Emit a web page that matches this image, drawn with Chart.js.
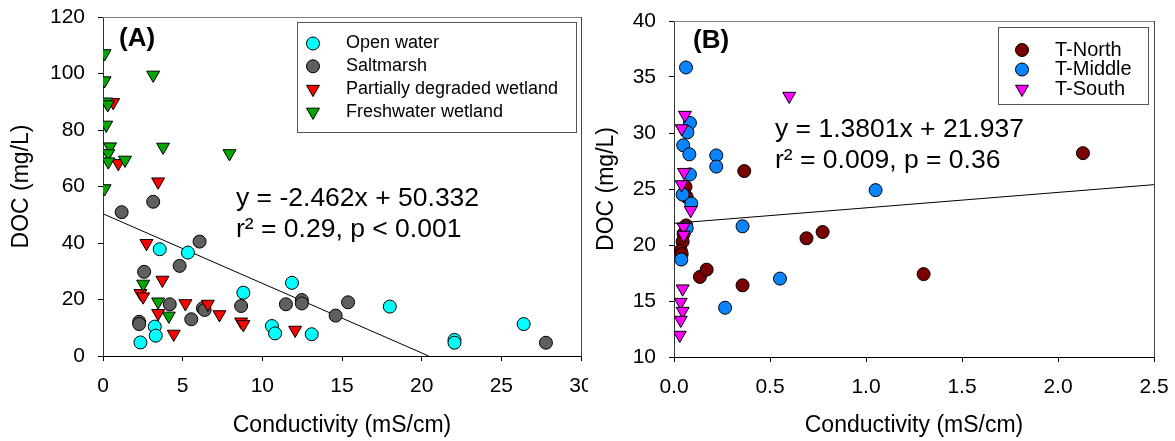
<!DOCTYPE html>
<html>
<head>
<meta charset="utf-8">
<script src="https://cdn.jsdelivr.net/npm/chart.js@4.4.1/dist/chart.umd.min.js"></script>
<style>
  body { margin:0; background:#fff; }
  .wrap { position:absolute; top:0; height:441px; overflow:hidden; }
</style>
</head>
<body>
<div class="wrap" style="left:0;width:588px"><canvas id="chartA" width="600" height="441"></canvas></div>
<div class="wrap" style="left:588px;width:587px"><canvas id="chartB" width="587" height="441"></canvas></div>
<script>
const FONT = "'Liberation Sans', Arial, sans-serif";

// ===== PANEL A data (conductivity mS/cm, DOC mg/L) =====
const openWater = [[5.33,36.6],[3.56,37.8],[8.81,22.4],[11.86,25.9],[3.25,10.4],[3.31,7.2],[2.35,4.8],
  [10.6,10.6],[10.8,8.0],[13.1,7.7],[18.0,17.5],[22.06,5.7],[22.06,4.7],[26.4,11.3]];
const saltmarsh = [[3.15,54.6],[1.17,50.9],[6.06,40.5],[4.81,31.9],[2.58,29.8],[4.19,18.3],[6.27,16.9],
  [6.38,16.3],[8.67,17.7],[11.48,18.3],[5.54,13.0],[2.27,12.1],[2.27,11.3],[12.48,19.8],[12.48,18.6],
  [15.38,19.0],[14.6,14.3],[27.8,4.7]];
const degraded = [[0.64,89.8],[0.96,68.2],[3.46,61.7],[2.73,39.9],[3.73,26.9],[2.35,22.2],[2.52,21.0],
  [5.17,18.6],[6.58,18.4],[3.46,15.1],[7.31,14.7],[8.67,12.1],[8.81,11.2],[4.44,7.8],[12.06,9.2]];
const freshwater = [[0.1,107.1],[3.15,99.5],[0.1,97.5],[0.2,90.0],[0.3,89.0],[0.2,81.8],[0.44,74.1],
  [3.77,74.0],[7.94,71.7],[0.33,71.7],[0.33,68.8],[1.38,69.4],[0.1,59.3],[2.52,25.5],[3.46,19.2],[4.13,14.2]];
const fitA = { slope: -2.462, intercept: 50.332 };
const xTicksA = [0, 5, 10, 15, 20, 25, 30];
const yTicksA = [0, 20, 40, 60, 80, 100, 120];

// ===== PANEL B data =====
const tNorth = [[0.06,25.2],[0.066,24.3],[0.063,21.75],[0.05,21.0],[0.045,20.3],[0.035,19.5],[0.04,19.2],
  [0.135,17.15],[0.17,17.8],[0.357,16.4],[0.366,26.6],[0.69,20.6],[0.774,21.16],[1.30,17.4],[2.13,28.2]];
const tMiddle = [[0.0625,35.85],[0.083,30.9],[0.07,30.06],[0.048,28.9],[0.08,28.1],[0.22,28.0],[0.22,27.0],
  [0.083,26.3],[0.045,24.5],[0.09,23.7],[0.066,21.5],[0.038,18.7],[0.357,21.67],[0.266,14.4],[0.552,17.0],[1.05,24.9]];
const tSouth = [[0.6,33.3],[0.057,31.6],[0.04,30.4],[0.052,26.5],[0.04,25.4],[0.087,23.1],[0.05,21.6],
  [0.05,20.9],[0.045,16.1],[0.035,14.9],[0.045,14.1],[0.035,13.3],[0.03,11.96]];
const fitB = { slope: 1.3801, intercept: 21.937 };
const xTicksB = [0, 0.5, 1, 1.5, 2, 2.5];
const xTickLabelsB = ['0.0', '0.5', '1.0', '1.5', '2.0', '2.5'];
const yTicksB = [10, 15, 20, 25, 30, 35, 40];

const pts = arr => arr.map(([x, y]) => ({ x, y }));

function scatter(label, data, color, shape, order) {
  const tri = shape === 'triangle';
  return {
    type: 'scatter', label, data: pts(data), order,
    backgroundColor: color, borderColor: '#000', borderWidth: 1,
    pointStyle: shape, rotation: tri ? 180 : 0, pointRadius: tri ? 7.5 : 6.5
  };
}

function fitLine(fit, x0, x1) {
  return {
    type: 'line', data: [{ x: x0, y: fit.slope * x0 + fit.intercept }, { x: x1, y: fit.slope * x1 + fit.intercept }],
    borderColor: '#000', borderWidth: 1, pointRadius: 0, order: 10
  };
}

// labels may hang over the plot edges; the layout padding alone places the plot
function noPad(s) { s.paddingLeft = s.paddingRight = s.paddingTop = s.paddingBottom = 0 }

function axes(xTicks, xLabel, yTicks, yAxisW, xAxisH, yTitlePad) {
  return {
    x: {
      type: 'linear', min: xTicks[0], max: xTicks[xTicks.length - 1],
      afterBuildTicks: s => { s.ticks = xTicks.map(v => ({ value: v })) },
      afterFit: s => { s.height = xAxisH; noPad(s) },
      grid: { drawOnChartArea: false, drawTicks: true, tickLength: 5, color: '#000' },
      border: { color: '#000', width: 1 },
      ticks: { color: '#000', font: { size: 21, family: FONT }, padding: 13, maxRotation: 0, autoSkip: false, callback: xLabel },
      title: { display: true, text: 'Conductivity (mS/cm)', color: '#000', font: { size: 23, family: FONT }, padding: { top: 0, bottom: 2 } }
    },
    y: {
      type: 'linear', min: yTicks[0], max: yTicks[yTicks.length - 1],
      afterBuildTicks: s => { s.ticks = yTicks.map(v => ({ value: v })) },
      afterFit: s => { s.width = yAxisW; noPad(s) },
      grid: { drawOnChartArea: false, drawTicks: true, tickLength: 5, color: '#000' },
      border: { color: '#333', width: 1 },
      ticks: { color: '#000', font: { size: 21, family: FONT }, padding: 13, autoSkip: false },
      title: { display: true, text: 'DOC (mg/L)', color: '#000', font: { size: 23, family: FONT }, padding: { top: yTitlePad, bottom: 0 } }
    }
  };
}

// frame, legend, equation and panel letter
const overlay = {
  id: 'overlay',
  afterDraw(chart, args, o) {
    const { ctx, chartArea: a } = chart;
    ctx.save();
    ctx.lineWidth = 1;
    ctx.strokeStyle = '#808080';
    ctx.beginPath(); ctx.moveTo(a.left, a.top + 0.5); ctx.lineTo(a.right, a.top + 0.5); ctx.stroke();
    ctx.strokeStyle = '#444';
    ctx.beginPath(); ctx.moveTo(a.right + 0.5, a.top); ctx.lineTo(a.right + 0.5, a.bottom); ctx.stroke();

    // legend
    const L = o.legend;
    ctx.strokeStyle = '#555';
    ctx.strokeRect(L.x + 0.5, L.y + 0.5, L.w, L.h);
    ctx.font = `${L.size}px ${FONT}`;
    ctx.textBaseline = 'middle';
    ctx.textAlign = 'left';
    chart.data.datasets.filter(d => d.label).sort((p, q) => p.legendIdx - q.legendIdx).forEach((d, i) => {
      const y = L.rowY + i * L.rowH;
      ctx.fillStyle = d.backgroundColor;
      ctx.strokeStyle = '#000';
      ctx.lineWidth = 1;
      Chart.helpers.drawPoint(ctx, { pointStyle: d.pointStyle, rotation: d.rotation, radius: d.pointRadius, borderWidth: 1 }, L.markX, y);
      ctx.fillStyle = '#000';
      ctx.fillText(d.label, L.textX, y);
    });

    // equation
    ctx.font = `26.5px ${FONT}`;
    ctx.textBaseline = 'alphabetic';
    ctx.fillStyle = '#000';
    o.eq.lines.forEach((t, i) => ctx.fillText(t, o.eq.x, o.eq.y + i * 30.5));

    // panel letter
    ctx.font = `bold 26px ${FONT}`;
    ctx.textBaseline = 'middle';
    ctx.fillText(o.tag.text, o.tag.x, o.tag.y);
    ctx.restore();
  }
};

const base = {
  responsive: false, animation: false, events: [],
  plugins: { legend: { display: false }, tooltip: { enabled: false } }
};

// ===== PANEL A =====
const dsA = [
  scatter('Open water', openWater, '#00FFFF', 'circle', 4),
  scatter('Saltmarsh', saltmarsh, '#5F5F5F', 'circle', 3),
  scatter('Partially degraded wetland', degraded, '#FF0000', 'triangle', 2),
  scatter('Freshwater wetland', freshwater, '#00A800', 'triangle', 1),
  fitLine(fitA, 0, -fitA.intercept / fitA.slope)
];
dsA.forEach((d, i) => d.legendIdx = i);
new Chart(document.getElementById('chartA'), {
  data: { datasets: dsA },
  options: {
    ...base,
    layout: { padding: { top: 17, right: 19, left: 0, bottom: 0 } },
    scales: axes(xTicksA, v => String(v), yTicksA, 103, 85, 8),
    plugins: {
      ...base.plugins,
      overlay: {
        legend: { x: 297, y: 22, w: 279, h: 110, size: 18, markX: 313, textX: 346, rowY: 43.5, rowH: 22.8 },
        eq: { x: 236, y: 206, lines: ['y = -2.462x + 50.332', 'r\u00B2 = 0.29, p < 0.001'] },
        tag: { text: '(A)', x: 119, y: 39 }
      }
    }
  },
  plugins: [overlay]
});

// ===== PANEL B =====
const dsB = [
  scatter('T-North', tNorth, '#7A0000', 'circle', 3),
  scatter('T-Middle', tMiddle, '#0A84FF', 'circle', 2),
  scatter('T-South', tSouth, '#FF00FF', 'triangle', 1),
  fitLine(fitB, 0, 2.5)
];
dsB.forEach((d, i) => d.legendIdx = i);
new Chart(document.getElementById('chartB'), {
  data: { datasets: dsB },
  options: {
    ...base,
    layout: { padding: { top: 21, right: 21, left: 0, bottom: 0 } },
    scales: axes(xTicksB, (v, i) => xTickLabelsB[i], yTicksB, 86, 84, 5),
    plugins: {
      ...base.plugins,
      overlay: {
        legend: { x: 410, y: 27, w: 150, h: 77, size: 20, markX: 434, textX: 467, rowY: 50, rowH: 19.5 },
        eq: { x: 187, y: 137, lines: ['y = 1.3801x + 21.937', 'r\u00B2 = 0.009, p = 0.36'] },
        tag: { text: '(B)', x: 105, y: 41 }
      }
    }
  },
  plugins: [overlay]
});
</script>
</body>
</html>
